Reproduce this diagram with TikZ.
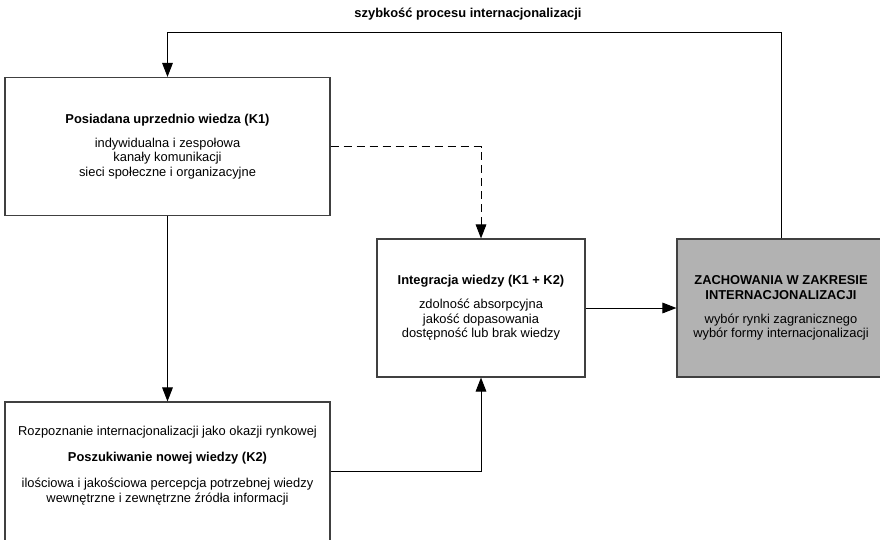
\documentclass[tikz,border=0pt]{standalone}
\usepackage{fontspec}
\setmainfont{Liberation Sans}
\usetikzlibrary{positioning, arrows.meta}
\definecolor{zachgray}{RGB}{178,178,178}

\begin{document}
\begin{tikzpicture}[
    x=0.3mm, y=-0.3mm,
    >={Triangle[length=4.2mm, width=3.2mm]},
    box/.style={rectangle, draw=black!75, line width=1pt, fill=white, align=center, font=\fontsize{11}{12.5}\selectfont, inner sep=2pt},
    arr/.style={->, line width=0.8pt, black}
]
\useasboundingbox (0,0) rectangle (880,539);

% feedback label
\node[font=\bfseries\fontsize{11}{12.5}\selectfont] (speed) at (468,14) {szybkość procesu internacjonalizacji};

% K1 box
\node[box, minimum width=97.5mm, minimum height=41.4mm] (k1) at (167.5,146.5)
    {\textbf{Posiadana uprzednio wiedza (K1)}\\[8pt]
     indywidualna i zespołowa\\ kanały komunikacji\\ sieci społeczne i organizacyjne};

% K2 box (empty line at the end keeps the text a bit higher)
\node[box, minimum width=97.5mm, minimum height=41.7mm] (k2) at (167.5,471.5)
    {Rozpoznanie internacjonalizacji jako okazji rynkowej\\[10pt]
     \textbf{Poszukiwanie nowej wiedzy (K2)}\\[10pt]
     ilościowa i jakościowa percepcja potrzebnej wiedzy\\ wewnętrzne i zewnętrzne źródła informacji\\\mbox{}};

% integration box
\node[box, minimum width=62.4mm, minimum height=41.4mm] (integ) at (481,308)
    {\textbf{Integracja wiedzy (K1 + K2)}\\[8pt]
     zdolność absorpcyjna\\ jakość dopasowania\\ dostępność lub brak wiedzy};

% behaviour box
\node[box, fill=zachgray, minimum width=62.4mm, minimum height=41.4mm] (zach) at (781,308)
    {\textbf{ZACHOWANIA W ZAKRESIE}\\ \textbf{INTERNACJONALIZACJI}\\[8pt]
     wybór rynki zagranicznego\\ wybór formy internacjonalizacji};

% connectors
\coordinate (fb) at (0,32);
\draw[arr] (zach.north) |- (fb -| k1.north) -- (k1.north);
\draw[arr, dash pattern=on 2.4mm off 1.5mm] (k1.east) -| (integ.north);
\draw[arr] (k1.south) -- (k2.north);
\draw[arr] (k2.east) -| (integ.south);
\draw[arr] (integ.east) -- (zach.west);

\end{tikzpicture}
\end{document}
